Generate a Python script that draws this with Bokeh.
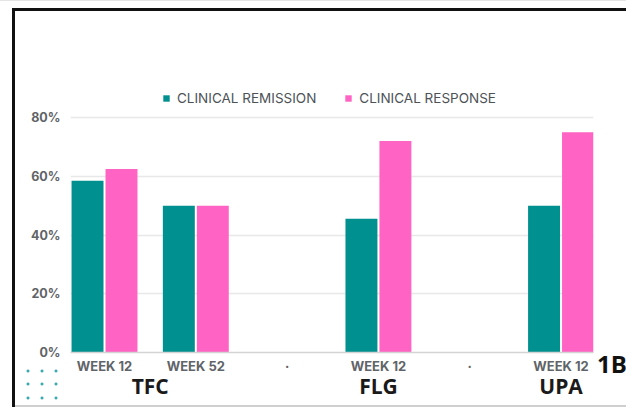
from bokeh.plotting import figure
from bokeh.layouts import column, row
from bokeh.models import (Range1d, ColumnDataSource, Legend, LegendItem, LinearAxis,
                          PrintfTickFormatter, FixedTicker, Div, Spacer)
from bokeh.transform import dodge
from bokeh.embed import file_html
from bokeh.resources import INLINE

# ---- data ----
week_labels = ["WEEK 12", "WEEK 52", "·", "WEEK 12", "·", "WEEK 12"]
drug_labels = ["TFC", "TFC", "", "FLG", "", "UPA"]
remission = [58.5, 50, float("nan"), 45.5, float("nan"), 50]
response = [62.5, 50, float("nan"), 72, float("nan"), 75]
y_ticks = [0, 20, 40, 60, 80]
series_names = ["CLINICAL REMISSION", "CLINICAL RESPONSE"]
colors = ["#00908F", "#FF63C3"]
panel_tag = "1B"

# category positions (2 units per category) and group centres
cat_pos = [2 * i for i in range(len(week_labels))]
group_names = [d for i, d in enumerate(drug_labels) if d and d not in drug_labels[:i]]
group_pos = []
for g in group_names:
    ps = [cat_pos[i] for i, d in enumerate(drug_labels) if d == g]
    c = sum(ps) / len(ps)
    group_pos.append(int(c) if c == int(c) else c)

src = ColumnDataSource(dict(x=cat_pos, remission=remission, response=response))

PW, PH = 580, 394
p = figure(x_range=Range1d(-0.745, 10.711), y_range=Range1d(0, 92.26),
           width=PW, height=PH, output_backend="svg", toolbar_location=None,
           min_border_left=55, min_border_right=2, min_border_top=70, min_border_bottom=53)
p.outline_line_color = None
p.background_fill_color = "white"
p.border_fill_color = None

# decorative 3x3 dot grid in the lower-left corner (CSS background of the plot element)
dot_x = [10, 24, 38]
dot_y = [357, 370, 384]
layers = [(x, y) for y in dot_y for x in dot_x]
dot = "radial-gradient(circle, #3aaab0 1.2px, rgba(255,255,255,0) 1.8px)"
p.styles = {
    "background-image": ", ".join([dot] * len(layers)),
    "background-size": ", ".join(["6px 6px"] * len(layers)),
    "background-position": ", ".join(f"{x}px {y}px" for x, y in layers),
    "background-repeat": "no-repeat",
}

r1 = p.vbar(x=dodge("x", -0.372), top="remission", width=0.70,
            source=src, fill_color=colors[0], line_color=None)
r2 = p.vbar(x=dodge("x", 0.372), top="response", width=0.70,
            source=src, fill_color=colors[1], line_color=None)

legend = Legend(items=[LegendItem(label=series_names[0], renderers=[r1]),
                       LegendItem(label=series_names[1], renderers=[r2])],
                orientation="horizontal", location=(92, 244),
                glyph_width=8, glyph_height=8, label_standoff=7, spacing=28,
                padding=0, margin=0, border_line_color=None, background_fill_alpha=0,
                label_text_font="Inter", label_text_font_size="13.5px",
                label_text_color="#4d5257", label_height=20)
p.add_layout(legend, "center")

# y axis
p.yaxis.ticker = FixedTicker(ticks=y_ticks)
p.yaxis.formatter = PrintfTickFormatter(format="%d%%")
p.yaxis.axis_line_color = None
p.yaxis.major_tick_line_color = None
p.yaxis.minor_tick_line_color = None
p.yaxis.major_tick_out = 0
p.yaxis.major_label_standoff = 10
p.yaxis.major_label_text_font = "Inter"
p.yaxis.major_label_text_font_size = "12.5px"
p.yaxis.major_label_text_font_style = "bold"
p.yaxis.major_label_text_color = "#5f6468"

p.ygrid.grid_line_color = "#e8e8e8"
p.ygrid.grid_line_width = 1.5
p.xgrid.grid_line_color = None

# x axis: week labels
xa = p.xaxis[0]
xa.ticker = FixedTicker(ticks=cat_pos)
xa.major_label_overrides = {pos: lab for pos, lab in zip(cat_pos, week_labels)}
xa.axis_line_color = "#d4d4d4"
xa.axis_line_width = 1.5
xa.major_tick_line_color = None
xa.minor_tick_line_color = None
xa.major_tick_out = 0
xa.major_tick_in = 0
xa.major_label_standoff = 5
xa.major_label_text_font = "Inter"
xa.major_label_text_font_size = "13px"
xa.major_label_text_font_style = "bold"
xa.major_label_text_color = "#5f6468"

# second x axis: drug groups
ga = LinearAxis(ticker=FixedTicker(ticks=group_pos),
                major_label_overrides={pos: g for pos, g in zip(group_pos, group_names)})
ga.axis_line_color = None
ga.major_tick_line_color = None
ga.minor_tick_line_color = None
ga.major_tick_out = 0
ga.major_tick_in = 0
ga.major_label_standoff = -5
ga.major_label_text_font = "Open Sans"
ga.major_label_text_font_size = "21px"
ga.major_label_text_font_style = "bold"
ga.major_label_text_color = "#1a1a1a"
p.add_layout(ga, "below")

dark = {"background-color": "#111111"}
light = {"background-color": "#e4e4e4"}
grey = {"background-color": "#cfcfcf"}
tag_style = {"font-family": "Open Sans", "font-weight": "bold", "font-size": "24px",
             "line-height": "30px", "color": "#111111", "text-indent": "2px",
             "white-space": "nowrap"}
tag = Div(text=panel_tag, width=31, height=30, margin=0, styles=tag_style)

page = column(
    Div(text="", width=626, height=1, margin=0, styles=light),
    Spacer(width=626, height=7, margin=0),
    row(Spacer(width=12, height=3, margin=0),
        Div(text="", width=614, height=3, margin=0, styles=dark)),
    row(Spacer(width=12, height=PH, margin=0),
        Div(text="", width=3, height=PH, margin=0, styles=dark),
        p,
        column(Spacer(width=31, height=338, margin=0), tag,
               Spacer(width=31, height=PH - 338 - 30, margin=0))),
    row(Spacer(width=12, height=2, margin=0),
        Div(text="", width=3, height=2, margin=0, styles=dark),
        Div(text="", width=611, height=2, margin=0, styles=grey)),
)

open("out.html", "w").write(file_html(page, INLINE))
